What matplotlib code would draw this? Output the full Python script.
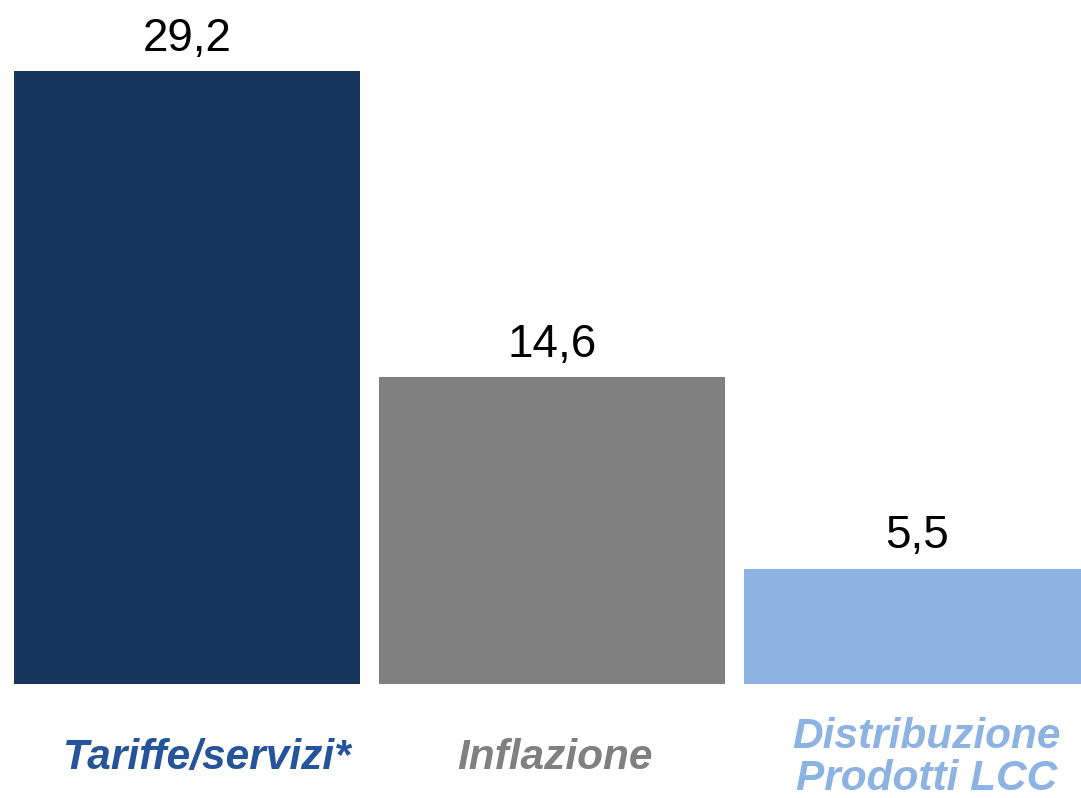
import matplotlib.pyplot as plt
import numpy as np

categories = ["Tariffe/servizi*", "Inflazione", "Distribuzione\nProdotti LCC"]
values = [29.2, 14.6, 5.5]
value_labels = ["29,2", "14,6", "5,5"]

bar_colors = ["#17365d", "#808080", "#8db3e2"]
label_colors = ["#25549a", "#808080", "#8db3e2"]
label_dx = [14, 2, 7]  # small horizontal nudges of the category labels (points)

fig = plt.figure(figsize=(10.81, 7.98), dpi=100)
ax = fig.add_axes([0, 114 / 798, 1, 684 / 798])

x = np.arange(len(categories))
ax.bar(x, values, width=0.948, color=bar_colors)

for xi, v, lab in zip(x, values, value_labels):
    ax.annotate(lab, (xi, v), xytext=(0, 14.5), textcoords="offset points",
                ha="center", va="baseline", fontsize=33,
                family="Liberation Sans", color="black")

# category labels under the bars
for xi, lab, c, dx in zip(x, categories, label_colors, label_dx):
    ax.annotate(lab, (xi, 0), xytext=(dx, -53), textcoords="offset points",
                ha="center", va="center", multialignment="center",
                fontsize=30.5, fontweight="bold", fontstyle="italic",
                family="Liberation Sans", color=c, linespacing=1.06,
                annotation_clip=False)

ax.set_xlim(-0.512, 2.449)
ax.set_ylim(0, 684 / 21)
ax.set_xticks([])
ax.set_yticks([])
for s in ax.spines.values():
    s.set_visible(False)

fig.savefig("out.png", dpi=100)
